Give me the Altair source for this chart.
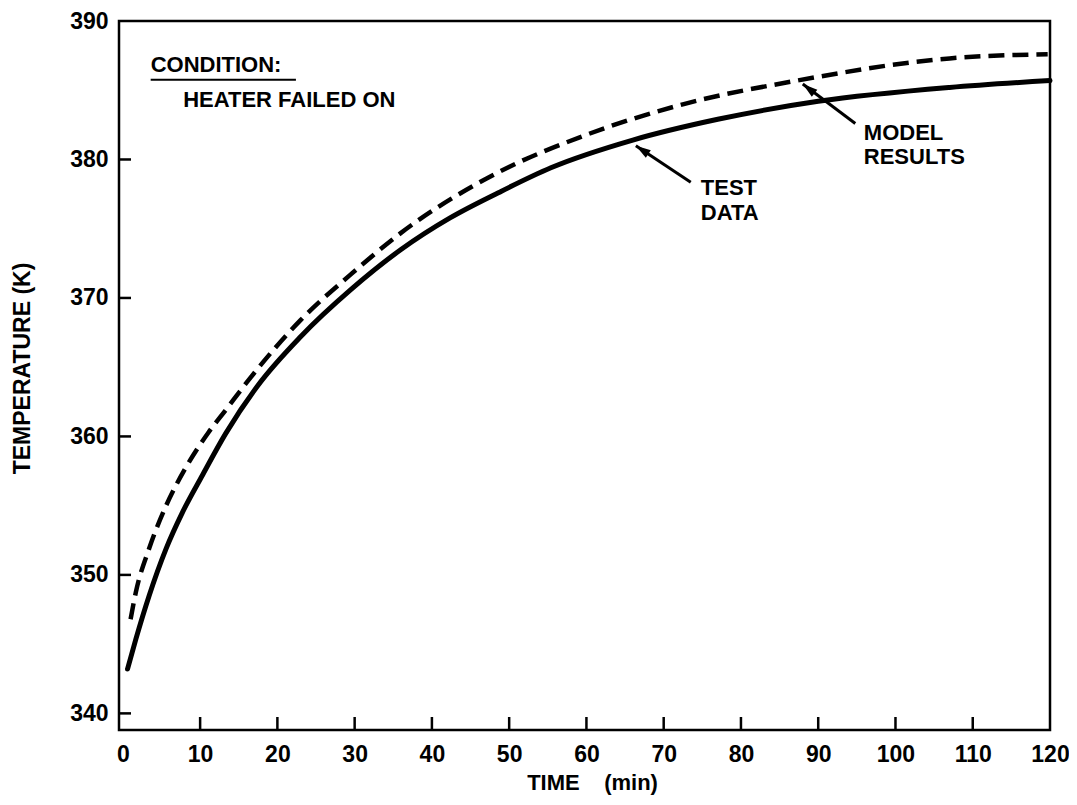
import altair as alt
import pandas as pd

# ---- data ----
test_time = [0.6, 1.7, 3.4, 5.6, 7.7, 10.3, 13.3, 17.5, 23, 29.5, 36, 42.4, 48.6, 55.4, 66, 77, 90, 107, 120]
test_temp = [343.2, 345.4, 348.5, 351.9, 354.5, 357.2, 360.2, 363.7, 367.2, 370.6, 373.5, 375.8, 377.6, 379.4, 381.4, 382.9, 384.2, 385.2, 385.7]

model_time = [1.0, 1.7, 3.4, 5.6, 8.2, 11.1, 13.3, 16.6, 23, 29.5, 36, 48.7, 59.6, 72.6, 87.3, 107, 119.7]
model_temp = [346.8, 348.8, 351.9, 355.0, 357.8, 360.3, 361.9, 364.3, 368.4, 371.7, 374.7, 379.1, 381.7, 384.0, 385.7, 387.3, 387.6]

x_ticks = [0, 10, 20, 30, 40, 50, 60, 70, 80, 90, 100, 110, 120]
x_inner_ticks = [10, 20, 30, 40, 50, 60, 70, 80, 90, 100, 110]
y_ticks = [340, 350, 360, 370, 380, 390]
y_inner_ticks = [340, 350, 360, 370, 380]

label_text = ["CONDITION:", "HEATER FAILED ON", "MODEL", "RESULTS", "TEST", "DATA"]
label_time = [3.6, 7.8, 95.9, 95.9, 74.8, 74.8]
label_temp = [386.3, 383.8, 381.4, 379.7, 377.4, 375.6]

underline_time = [3.6]
underline_time2 = [22.4]
underline_temp = [385.76]

arrow_time = [73.5, 94.8]
arrow_temp = [378.35, 382.6]
arrow_tip_time = [66.4, 88.0]
arrow_tip_temp = [381.0, 385.45]
arrow_angle = [304, 308]

X_DOMAIN = [-0.5, 120]
Y_DOMAIN = [338.8, 390]
W, H = 931, 709
FONT = "Liberation Sans"

df_test = pd.DataFrame({"t": test_time, "T": test_temp})
df_model = pd.DataFrame({"t": model_time, "T": model_temp})
df_xt = pd.DataFrame({"t": x_inner_ticks})
df_yt = pd.DataFrame({"T": y_inner_ticks})
df_lab = pd.DataFrame({"t": label_time, "T": label_temp, "text": label_text})
df_ul = pd.DataFrame({"t": underline_time, "t2": underline_time2, "T": underline_temp})
df_arrow = pd.DataFrame({"t": arrow_time, "T": arrow_temp, "t2": arrow_tip_time, "T2": arrow_tip_temp,
                         "angle": arrow_angle})

xscale = alt.Scale(domain=X_DOMAIN, nice=False, zero=False)
yscale = alt.Scale(domain=Y_DOMAIN, nice=False, zero=False)

xaxis = alt.Axis(values=x_ticks, title="TIME\u00a0\u00a0\u00a0\u00a0(min)", grid=False, ticks=False, tickSize=0,
                 domain=False, labelFont=FONT, labelFontSize=23, labelFontWeight="bold", labelColor="black",
                 labelPadding=13, labelFlush=False,
                 titleFont=FONT, titleFontSize=22, titleFontWeight="bold", titleColor="black",
                 titleX=473, titleY=52, titleBaseline="middle", titleAlign="center")
yaxis = alt.Axis(values=y_ticks, title="TEMPERATURE (K)", grid=False, ticks=False, tickSize=0,
                 domain=False, labelFont=FONT, labelFontSize=23, labelFontWeight="bold", labelColor="black",
                 labelPadding=11, labelFlush=False,
                 titleFont=FONT, titleFontSize=23, titleFontWeight="bold", titleColor="black",
                 titleX=-97, titleY=347, titleAngle=270, titleBaseline="middle", titleAlign="center")

test_line = alt.Chart(df_test).mark_line(color="black", strokeWidth=5, interpolate="monotone",
                                         strokeCap="round").encode(
    x=alt.X("t:Q", scale=xscale, axis=xaxis),
    y=alt.Y("T:Q", scale=yscale, axis=yaxis),
)
model_line = alt.Chart(df_model).mark_line(color="black", strokeWidth=4.5, interpolate="monotone",
                                           strokeDash=[16, 8]).encode(
    x=alt.X("t:Q", scale=xscale), y=alt.Y("T:Q", scale=yscale)
)

xt = alt.Chart(df_xt).mark_rule(color="black", strokeWidth=2.5).encode(
    x=alt.X("t:Q", scale=xscale), y=alt.value(H), y2=alt.value(H - 13)
)
yt = alt.Chart(df_yt).mark_rule(color="black", strokeWidth=2.5).encode(
    y=alt.Y("T:Q", scale=yscale), x=alt.value(0), x2=alt.value(12)
)

labels = alt.Chart(df_lab).mark_text(font=FONT, fontSize=22, fontWeight="bold", color="black",
                                     align="left", baseline="alphabetic").encode(
    x=alt.X("t:Q", scale=xscale), y=alt.Y("T:Q", scale=yscale), text="text:N"
)
underline = alt.Chart(df_ul).mark_rule(color="black", strokeWidth=2).encode(
    x=alt.X("t:Q", scale=xscale), x2="t2:Q", y=alt.Y("T:Q", scale=yscale)
)
arrow_lines = alt.Chart(df_arrow).mark_rule(color="black", strokeWidth=3).encode(
    x=alt.X("t:Q", scale=xscale), x2="t2:Q", y=alt.Y("T:Q", scale=yscale), y2="T2:Q"
)
arrow_heads = alt.Chart(df_arrow).mark_point(shape="M0,0 L-0.3,1 L0.3,1 Z", size=900, filled=True,
                                             color="black", opacity=1).encode(
    x=alt.X("t2:Q", scale=xscale), y=alt.Y("T2:Q", scale=yscale), angle=alt.Angle("angle:Q", scale=None)
)

chart = alt.layer(test_line, model_line, xt, yt, underline, arrow_lines, arrow_heads, labels).properties(
    width=W, height=H,
    autosize=alt.AutoSizeParams(type="none"),
    padding={"left": 111, "top": 13, "right": 19, "bottom": 67},
    background="white",
).configure_view(stroke="black", strokeWidth=2.5)

chart.save("out.html", embed_options={"renderer": "svg", "actions": False})
